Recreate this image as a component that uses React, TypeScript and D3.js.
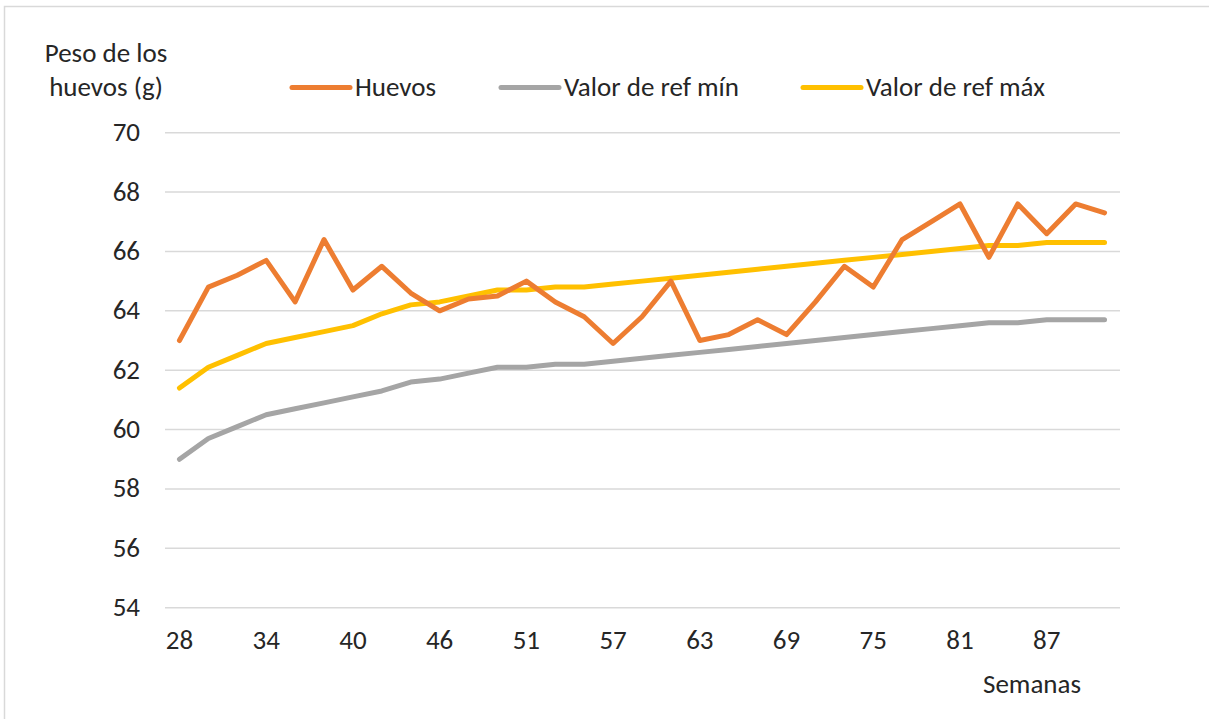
import React from "react";
import * as d3 from "d3";

// weeks (only every third one is labelled on the axis)
const semanas = [28, 30, 32, 34, 36, 38, 40, 42, 44, 46, 48, 49, 51, 53, 55, 57, 59, 61, 63, 65, 67, 69, 71, 73, 75, 77, 79, 81, 83, 85, 87, 89, 91];
const huevos = [63.0, 64.8, 65.2, 65.7, 64.3, 66.4, 64.7, 65.5, 64.6, 64.0, 64.4, 64.5, 65.0, 64.3, 63.8, 62.9, 63.8, 65.0, 63.0, 63.2, 63.7, 63.2, 64.3, 65.5, 64.8, 66.4, 67.0, 67.6, 65.8, 67.6, 66.6, 67.6, 67.3];
const refMin = [59.0, 59.7, 60.1, 60.5, 60.7, 60.9, 61.1, 61.3, 61.6, 61.7, 61.9, 62.1, 62.1, 62.2, 62.2, 62.3, 62.4, 62.5, 62.6, 62.7, 62.8, 62.9, 63.0, 63.1, 63.2, 63.3, 63.4, 63.5, 63.6, 63.6, 63.7, 63.7, 63.7];
const refMax = [61.4, 62.1, 62.5, 62.9, 63.1, 63.3, 63.5, 63.9, 64.2, 64.3, 64.5, 64.7, 64.7, 64.8, 64.8, 64.9, 65.0, 65.1, 65.2, 65.3, 65.4, 65.5, 65.6, 65.7, 65.8, 65.9, 66.0, 66.1, 66.2, 66.2, 66.3, 66.3, 66.3];
const yTicks = [54, 56, 58, 60, 62, 64, 66, 68, 70];

const series = [
  { name: "Huevos", values: huevos, color: "#ED7D31" },
  { name: "Valor de ref mín", values: refMin, color: "#A5A5A5" },
  { name: "Valor de ref máx", values: refMax, color: "#FFC000" },
];
// draw order: gray, yellow, orange on top
const drawOrder = [1, 2, 0];
const legendX = [290, 499, 801];

const W = 1209, H = 719;
const font = "Carlito, 'Open Sans', sans-serif";
const fs = 27;

export default function App() {
  const x = d3.scaleBand<number>().domain(semanas).range([165, 1119]).padding(0);
  const cx = (d: number) => (x(d) as number) + x.bandwidth() / 2;
  const y = d3.scaleLinear().domain([54, 70]).range([607.7, 132.7]);

  const line = d3.line<number>()
    .x((v, i) => cx(semanas[i]))
    .y(v => y(v));

  const xTicks = semanas.filter((d, i) => i % 3 === 0);

  return (
    <svg width={W} height={H} style={{ position: "absolute", left: 0, top: 0 }} fontFamily={font}>
      <rect x={0} y={0} width={W} height={H} fill="#fff" />
      <rect x={4.5} y={6.5} width={W + 20} height={H + 20} fill="none" stroke="#D9D9D9" strokeWidth={1.5} />

      {/* gridlines */}
      {yTicks.map(t => (
        <line key={t} x1={165} x2={1120} y1={y(t)} y2={y(t)} stroke="#D9D9D9" strokeWidth={1.5} />
      ))}

      {/* y tick labels */}
      {yTicks.map(t => (
        <text key={t} x={140} y={y(t) + 8.5} textAnchor="end" fontSize={fs} fill="#262626">{t}</text>
      ))}

      {/* x tick labels */}
      {xTicks.map(d => (
        <text key={d} x={cx(d)} y={649} textAnchor="middle" fontSize={fs} fill="#262626">{d}</text>
      ))}

      {/* axis titles */}
      <text x={106} y={62} textAnchor="middle" fontSize={fs} fill="#262626">Peso de los</text>
      <text x={106} y={96} textAnchor="middle" fontSize={fs} fill="#262626">huevos (g)</text>
      <text x={1032} y={693} textAnchor="middle" fontSize={fs} fill="#262626">Semanas</text>

      {/* legend */}
      {series.map((s, i) => (
        <g key={s.name} transform={`translate(${legendX[i]},87.5)`}>
          <line x1={2} x2={60} y1={0} y2={0} stroke={s.color} strokeWidth={5} strokeLinecap="round" />
          <text x={65} y={8.5} fontSize={fs} fill="#262626">{s.name}</text>
        </g>
      ))}

      {/* data lines */}
      {drawOrder.map(i => (
        <path key={series[i].name} d={line(series[i].values) || ""} fill="none" stroke={series[i].color}
          strokeWidth={5} strokeLinejoin="round" strokeLinecap="round" />
      ))}
    </svg>
  );
}
